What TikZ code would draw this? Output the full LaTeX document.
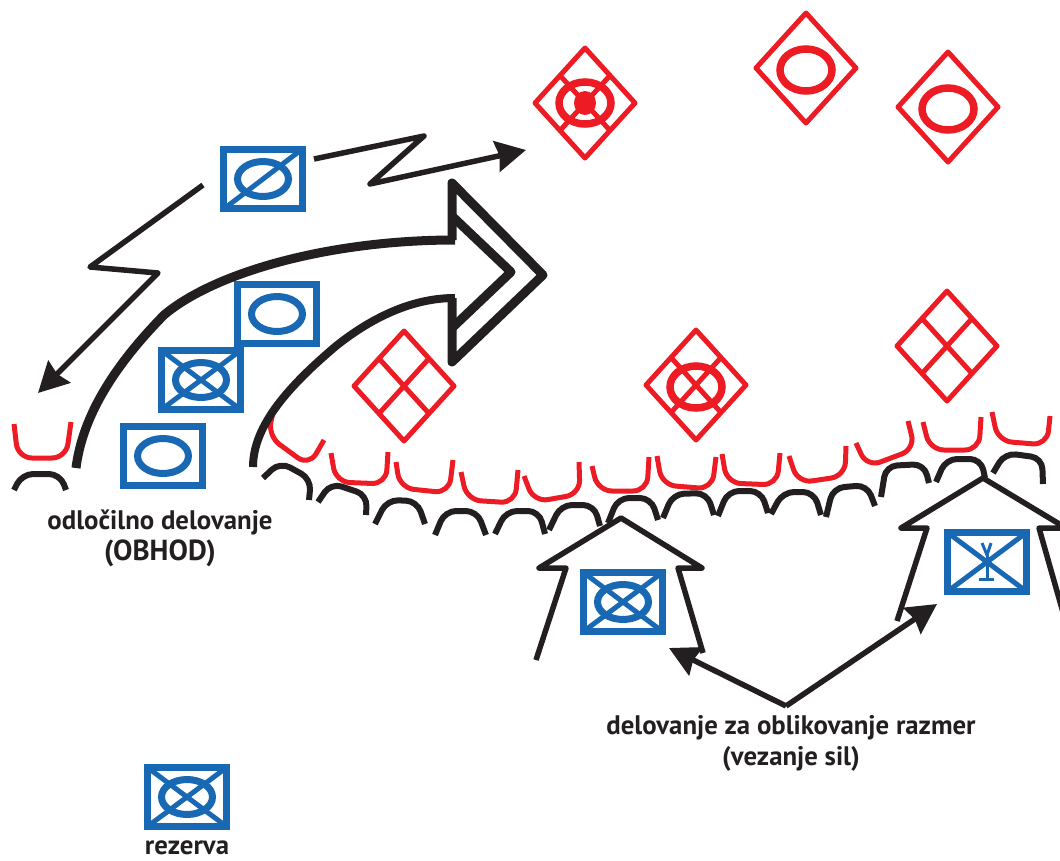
\documentclass[tikz,border=0pt]{standalone}
\usepackage{fontspec}
\setmainfont{PT Sans}
\usetikzlibrary{arrows.meta}
\definecolor{ownblue}{HTML}{1868B4}
\definecolor{foered}{HTML}{ED1C24}
\definecolor{inkblack}{HTML}{231F20}
\tikzset{
  boxline/.style={draw=ownblue, line width=7.5pt},
  boxmark/.style={draw=ownblue, line width=5pt},
  boxoval/.style={draw=ownblue, line width=7pt},
  foreline/.style={draw=foered, line width=5pt, line join=round},
  foreoval/.style={draw=foered, line width=7.5pt},
  moveline/.style={draw=inkblack, line width=5.5pt, line join=round},
  thrustline/.style={draw=inkblack, line width=9pt, line join=round},
  forwardline/.style={draw=inkblack, line width=6pt, rounded corners=11pt},
  labeltext/.style={text=inkblack, font=\fontsize{26.8}{31}\selectfont\bfseries, align=center},
  headtip/.style={-{Stealth[length=30pt,width=31pt,inset=3pt]}},
  pics/unitbox/.style={code={\draw[boxline] (-39.5,-29.5) rectangle (39.5,29.5);}},
  pics/unitoval/.style={code={\draw[boxoval] (0,0) ellipse [x radius=25.5, y radius=17.5];}},
  pics/unitcross/.style={code={
    \draw[boxmark] (-39.5,-29.5) -- (39.5,29.5);
    \draw[boxmark] (-39.5,29.5) -- (39.5,-29.5);}},
  pics/foediamond/.style={code={\draw[foreline] (0,-55) -- (-50,0) -- (0,55) -- (50,0) -- cycle;}},
  pics/foecross/.style={code={
    \draw[foreline] (-25,-27.5) -- (25,27.5);
    \draw[foreline] (25,-27.5) -- (-25,27.5);}},
  pics/foeoval/.style={code={\draw[foreoval] (0,0) ellipse [x radius=26, y radius=21];}}
}
\begin{document}
\begin{tikzpicture}[x=1pt,y=-1pt]
  \useasboundingbox (0,0) rectangle (1060,860);
  \clip (0,0) rectangle (1060,860);

  % Enemy positions (red diamonds)
  \pic at (585,103) {foediamond};
  \pic at (585,103) {foecross};
  \pic at (585,103) {foeoval};
  \fill[foered] (585,103) ellipse [x radius=11, y radius=12];
  \pic at (806,68) {foediamond};
  \pic at (806,70) {foeoval};
  \pic at (948,107) {foediamond};
  \pic at (948,109) {foeoval};
  \pic at (404,386) {foediamond};
  \pic at (404,386) {foecross};
  \pic at (696,385) {foediamond};
  \pic at (696,385) {foecross};
  \pic at (696,387) {foeoval};
  \pic at (947,346) {foediamond};
  \pic at (947,346) {foecross};

  % Enemy front (red cups)
  \foreach \xa/\ya/\xb/\yb/\xc/\yc/\xd/\yd in {
    14/424/18/458/66/458/71/422,
    273/412/268/436/309/466/324/440,
    331/453/336/482/386/484/388/452,
    396/462/400/488/449/493/453/460,
    461/472/467/500/515/503/518/470,
    524/476/534/502/580/494/579/462,
    592/466/598/491/647/491/649/457,
    657/456/662/485/712/489/716/457,
    722/454/727/483/777/485/780/453,
    789/456/798/483/845/476/846/446,
    856/443/867/467/915/449/908/421,
    923/422/930/450/979/450/981/417,
    992/412/998/441/1047/445/1050/416}
    \draw[foreline, rounded corners=14pt] (\xa,\ya) -- (\xb,\yb) -- (\xc,\yc) -- (\xd,\yd);

  % Own front (black arcs)
  \foreach \xa/\ya/\xb/\yb/\xc/\yc/\xd/\yd in {
    14/490/22/474/60/474/66/490,
    263/478/280/462/311/479/309/500,
    318/502/331/483/367/495/366/515,
    375/524/387/500/417/501/425/524,
    435/535/445/511/477/511/486/535,
    495/534/506/511/539/511/545/534,
    549/530/561/505/594/505/600/526,
    608/523/618/498/651/498/658/520,
    663/518/673/494/707/493/714/515,
    718/516/728/491/761/491/768/513,
    771/514/783/492/814/492/821/515,
    826/517/833/488/867/485/875/506,
    881/497/886/466/924/464/929/483,
    936/482/946/459/981/459/985/478,
    993/473/1005/453/1042/458/1043/484}
    \draw[forwardline] (\xa,\ya) -- (\xb,\yb) -- (\xc,\yc) -- (\xd,\yd);

  % Own units (blue boxes)
  \pic at (263,179) {unitbox};
  \pic at (263,179) {unitoval};
  \draw[boxmark] (225,208) -- (301,150);
  \pic at (277,314) {unitbox};
  \pic at (277,314) {unitoval};
  \pic at (201,380) {unitbox};
  \pic at (201,380) {unitcross};
  \pic at (201,380) {unitoval};
  \pic at (163,456) {unitbox};
  \pic at (163,456) {unitoval};
  \pic at (623,602) {unitbox};
  \pic at (623,602) {unitcross};
  \pic at (623,602) {unitoval};
  \pic at (187,797) {unitbox};
  \pic at (187,797) {unitcross};
  \pic at (187,797) {unitoval};
  \pic at (987,562) {unitbox};
  \pic at (987,562) {unitcross};
  \draw[boxmark, line width=3pt] (982,543) -- (987,555) -- (991,543);
  \draw[boxmark, line width=3pt] (987,555) -- (987,579);
  \draw[boxmark, line width=3pt] (979,579) -- (994,579);

  % Main thrust (outline arrow)
  \draw[thrustline] (76,468) .. controls (82,420) and (110,370) .. (164,315)
    .. controls (215,272) and (330,240) .. (455,240);
  \draw[thrustline, line width=8pt] (253,467) .. controls (253,425) and (290,385) .. (336,346)
    .. controls (375,315) and (415,298) .. (455,298);
  \draw[thrustline] (452,240) -- (452,183) -- (543,275) -- (452,362) -- (452,298);
  \draw[thrustline] (452,216) -- (511,272) -- (452,328);

  % Zigzag arrows
  \coordinate (zigA) at (314,159);
  \coordinate (zigB) at (424,136);
  \coordinate (zigC) at (370,184);
  \coordinate (zigTip) at (526,150);
  \draw[moveline, headtip] (zigA) -- (zigB) -- (zigC) -- (zigTip);
  \coordinate (zagA) at (203,185);
  \coordinate (zagB) at (90,267);
  \coordinate (zagC) at (158,273);
  \coordinate (zagTip) at (38,393);
  \draw[moveline, headtip] (zagA) -- (zagB) -- (zagC) -- (zagTip);

  % Shaping arrows (houses)
  \draw[moveline] (536,660) -- (566,568) -- (539,568) -- (621,518) -- (702,568) -- (678,568) -- (703,653);
  \draw[moveline] (897,621) -- (927,528) -- (901,528) -- (983,478) -- (1066,528) -- (1039,528) -- (1068,630);

  % Labels
  \node[labeltext] (obhod) at (160,538) {odločilno delovanje\\{\fontsize{29}{31}\selectfont (OBHOD)}};
  \node[labeltext] (vezanje) at (791,743) {delovanje za oblikovanje razmer\\(vezanje sil)};
  \node[labeltext] (rezerva) at (187,848) {rezerva};

  % Pointers from the label
  \coordinate (fork) at (786,706);
  \coordinate (forkL) at (669,648);
  \coordinate (forkR) at (937,604);
  \draw[moveline, headtip] (fork) -- (forkL);
  \draw[moveline, headtip] (fork) -- (forkR);
\end{tikzpicture}
\end{document}
